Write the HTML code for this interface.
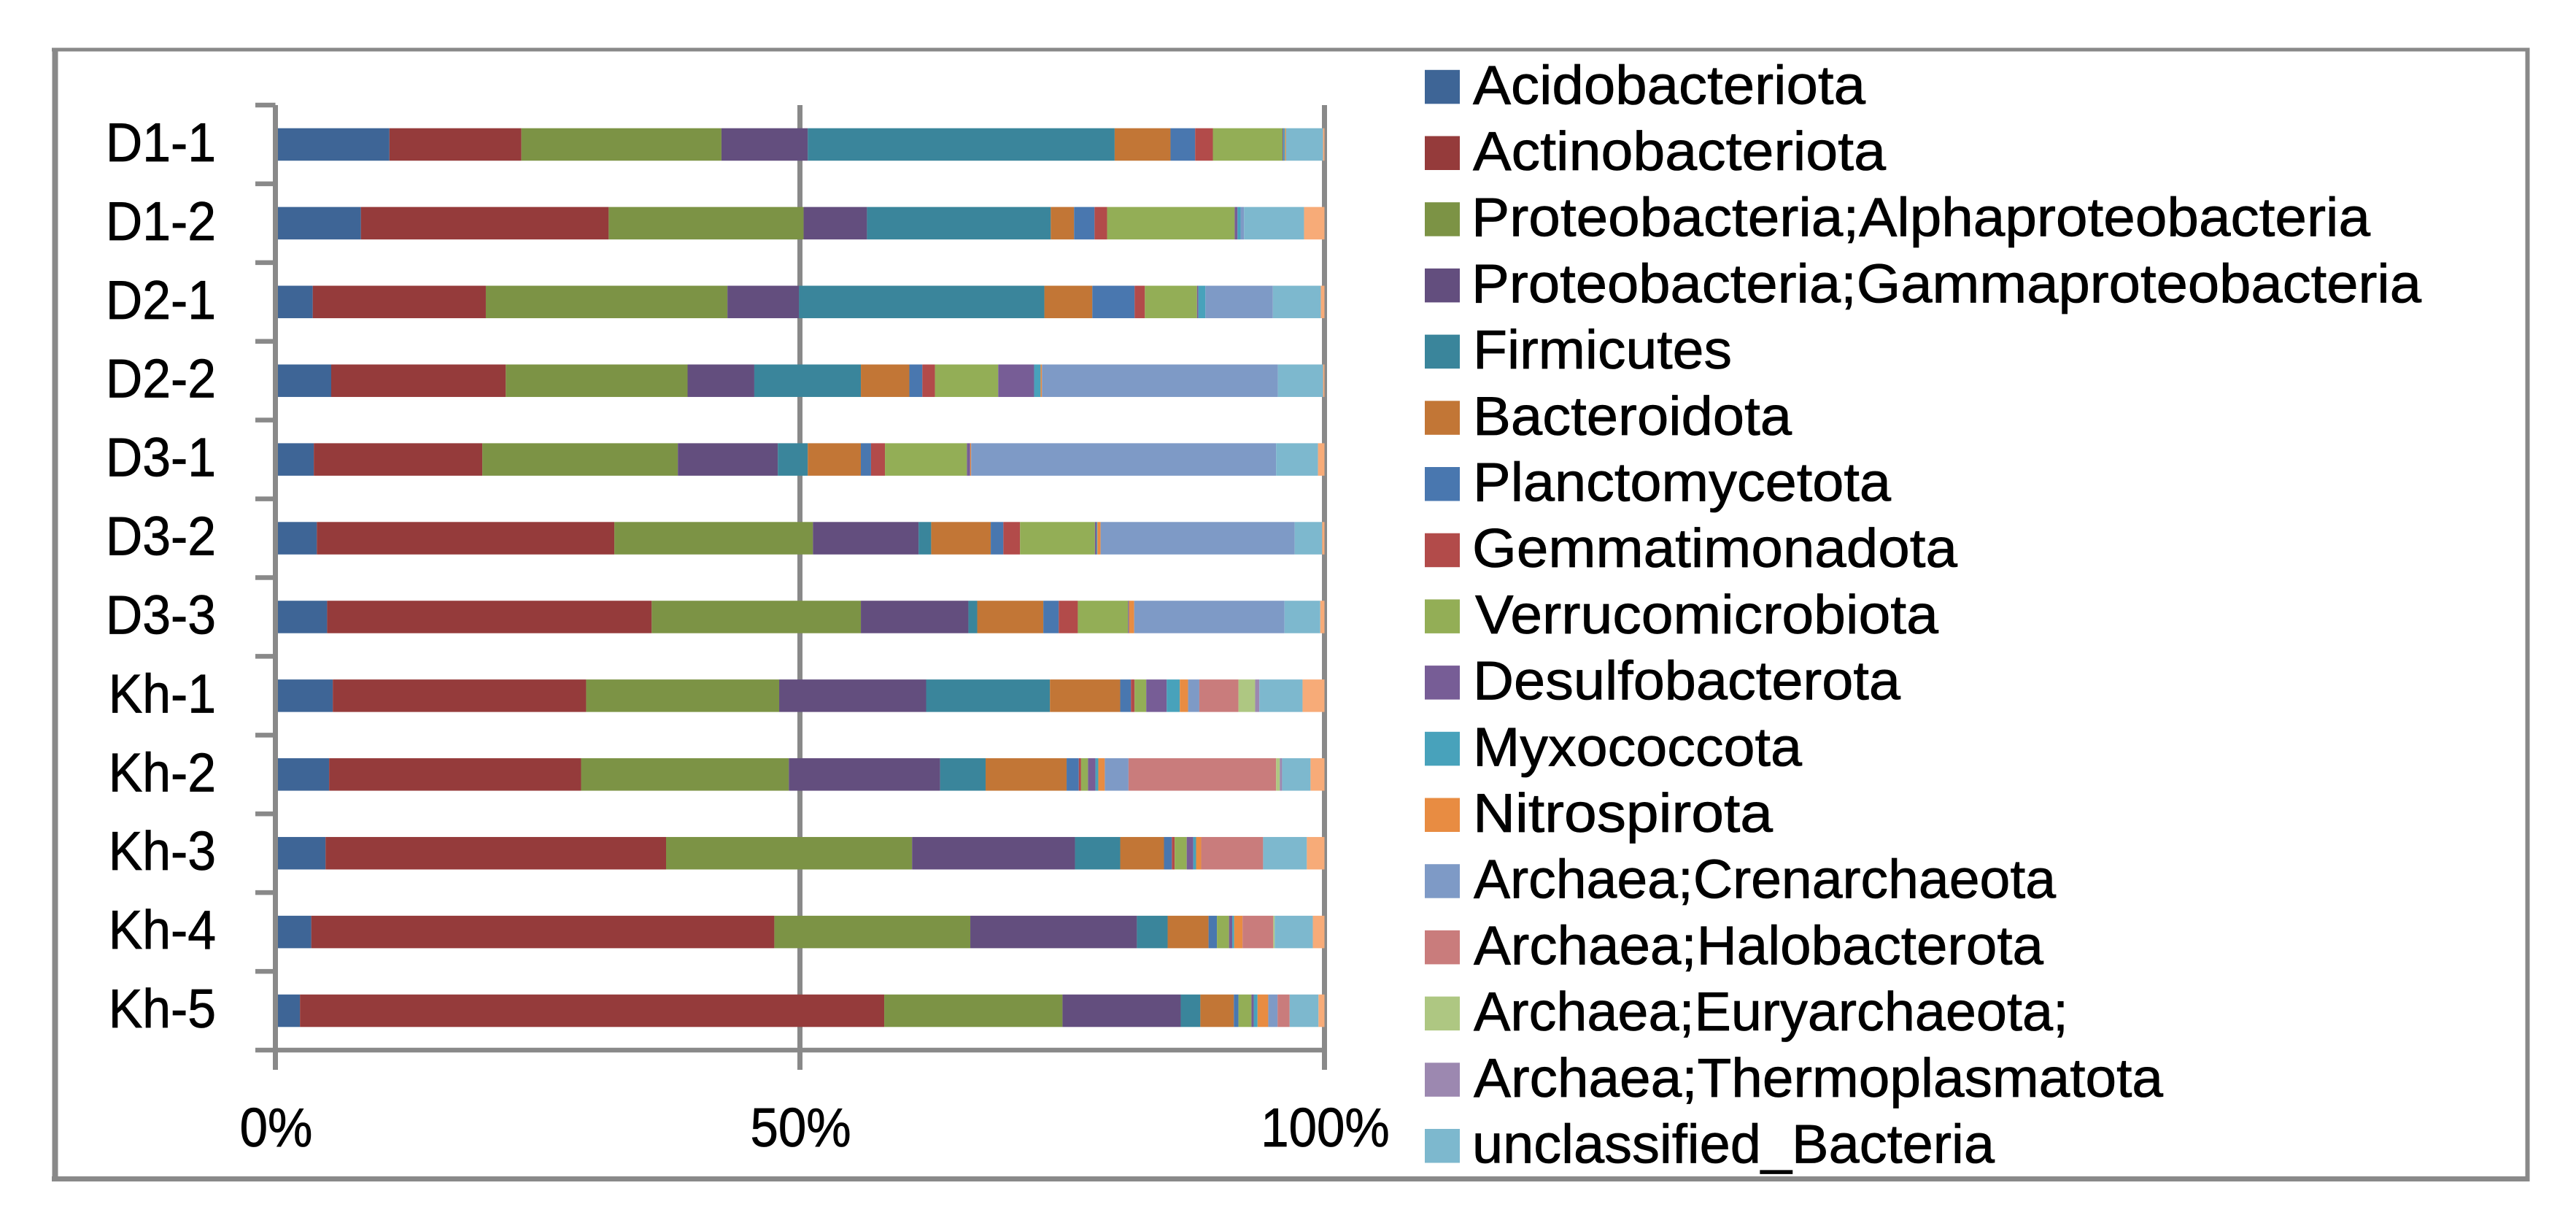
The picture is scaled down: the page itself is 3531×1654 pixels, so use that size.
<!DOCTYPE html>
<html>
<head>
<meta charset="utf-8">
<title>Stacked bar chart of microbial community composition</title>
<style>
html,body{margin:0;padding:0;background:#fff;}
svg{display:block;}
text{font-family:"Liberation Sans",sans-serif;fill:#000;stroke:#000;stroke-width:0.8px;font-size:75px;}
</style>
</head>
<body>
<svg id="chart" xmlns="http://www.w3.org/2000/svg" width="3531" height="1654" viewBox="0 0 3531 1654">
  <rect x="0" y="0" width="3531" height="1654" fill="#fff"/>
  <g stroke="#898989" fill="none">
    <line x1="75.5" y1="65.5" x2="75.5" y2="1619" stroke-width="8"/>
    <line x1="71" y1="68" x2="3467" y2="68" stroke-width="5"/>
    <line x1="3464.5" y1="65.5" x2="3464.5" y2="1619" stroke-width="6"/>
    <line x1="71" y1="1615.5" x2="3467" y2="1615.5" stroke-width="7"/>
  </g>
  <g id="grid"></g>
  <g id="bars"></g>
  <g id="axes"></g>
  <g id="legend">
    <g><rect x="1953" y="95.8" width="48" height="46.5" fill="#3E6596"/><text x="2019" y="142.3" textLength="538" lengthAdjust="spacingAndGlyphs">Acidobacteriota</text></g>
    <g><rect x="1953" y="186.5" width="48" height="46.5" fill="#953B3B"/><text x="2019" y="233" textLength="566" lengthAdjust="spacingAndGlyphs">Actinobacteriota</text></g>
    <g><rect x="1953" y="277.2" width="48" height="46.5" fill="#7C9345"/><text x="2017" y="323.7" textLength="1232" lengthAdjust="spacingAndGlyphs">Proteobacteria;Alphaproteobacteria</text></g>
    <g><rect x="1953" y="367.9" width="48" height="46.5" fill="#634E7E"/><text x="2017" y="414.4" textLength="1302" lengthAdjust="spacingAndGlyphs">Proteobacteria;Gammaproteobacteria</text></g>
    <g><rect x="1953" y="458.6" width="48" height="46.5" fill="#3A859B"/><text x="2019" y="505.1" textLength="355" lengthAdjust="spacingAndGlyphs">Firmicutes</text></g>
    <g><rect x="1953" y="549.3" width="48" height="46.5" fill="#C27636"/><text x="2019" y="595.8" textLength="437" lengthAdjust="spacingAndGlyphs">Bacteroidota</text></g>
    <g><rect x="1953" y="640" width="48" height="46.5" fill="#4977AF"/><text x="2019" y="686.5" textLength="573" lengthAdjust="spacingAndGlyphs">Planctomycetota</text></g>
    <g><rect x="1953" y="730.7" width="48" height="46.5" fill="#B24B4A"/><text x="2018" y="777.2" textLength="665" lengthAdjust="spacingAndGlyphs">Gemmatimonadota</text></g>
    <g><rect x="1953" y="821.4" width="48" height="46.5" fill="#93AE56"/><text x="2022" y="867.9" textLength="635" lengthAdjust="spacingAndGlyphs">Verrucomicrobiota</text></g>
    <g><rect x="1953" y="912.1" width="48" height="46.5" fill="#775D96"/><text x="2019" y="958.6" textLength="586" lengthAdjust="spacingAndGlyphs">Desulfobacterota</text></g>
    <g><rect x="1953" y="1002.8" width="48" height="46.5" fill="#48A2BB"/><text x="2019" y="1049.3" textLength="451" lengthAdjust="spacingAndGlyphs">Myxococcota</text></g>
    <g><rect x="1953" y="1093.5" width="48" height="46.5" fill="#E88C42"/><text x="2019" y="1140" textLength="411" lengthAdjust="spacingAndGlyphs">Nitrospirota</text></g>
    <g><rect x="1953" y="1184.2" width="48" height="46.5" fill="#7E9AC6"/><text x="2020" y="1230.7" textLength="798" lengthAdjust="spacingAndGlyphs">Archaea;Crenarchaeota</text></g>
    <g><rect x="1953" y="1274.9" width="48" height="46.5" fill="#C97C7C"/><text x="2020" y="1321.4" textLength="781" lengthAdjust="spacingAndGlyphs">Archaea;Halobacterota</text></g>
    <g><rect x="1953" y="1365.6" width="48" height="46.5" fill="#AEC782"/><text x="2020" y="1412.1" textLength="815" lengthAdjust="spacingAndGlyphs">Archaea;Euryarchaeota;</text></g>
    <g><rect x="1953" y="1456.3" width="48" height="46.5" fill="#9C88B0"/><text x="2020" y="1502.8" textLength="945" lengthAdjust="spacingAndGlyphs">Archaea;Thermoplasmatota</text></g>
    <g><rect x="1953" y="1547" width="48" height="46.5" fill="#7DB8CE"/><text x="2018" y="1593.5" textLength="716" lengthAdjust="spacingAndGlyphs">unclassified_Bacteria</text></g>
  </g>
</svg>
<script>
const categories = ["D1-1","D1-2","D2-1","D2-2","D3-1","D3-2","D3-3","Kh-1","Kh-2","Kh-3","Kh-4","Kh-5"];
const xTickValues = [0,50,100];
const xTickLabels = ["0%","50%","100%"];

const acidobacteriota = [10.88,8.15,3.56,5.32,3.66,3.95,4.93,5.47,5.12,4.78,3.42,2.34];
const actinobacteriota = [12.59,23.62,16.50,16.64,16.06,28.36,30.94,24.15,24.02,32.46,44.14,55.69];
const alphaproteobacteria = [19.09,18.58,23.03,17.33,18.64,18.93,19.94,18.40,19.80,23.45,18.68,16.99];
const gammaproteobacteria = [8.24,6.04,6.82,6.36,9.53,10.07,10.25,14.01,14.42,15.53,15.88,11.27];
const firmicutes = [29.28,17.52,23.39,10.16,2.85,1.20,0.84,11.80,4.34,4.31,2.93,1.87];
const bacteroidota = [5.33,2.22,4.57,4.62,5.06,5.68,6.30,6.70,7.72,4.17,3.90,3.19];
const planctomycetota = [2.35,1.95,4.03,1.24,0.97,1.20,1.47,1.02,1.16,0.75,0.80,0.44];
const gemmatimonadota = [1.69,1.20,0.98,1.20,1.33,1.59,1.82,0.35,0.22,0.27,0,0];
const verrucomicrobiota = [6.65,12.16,4.97,6.03,7.81,7.14,4.79,1.11,0.66,1.15,1.15,1.24];
const desulfobacterota = [0.09,0.27,0.13,3.42,0.31,0.15,0.09,1.95,0.71,0.62,0.31,0.22];
const myxococcota = [0.13,0.29,0.67,0.62,0,0.08,0,1.25,0.27,0.27,0.18,0.36];
const nitrospirota = [0.09,0,0,0.13,0.09,0.31,0.49,0.79,0.62,0.49,0.80,1.02];
const crenarchaeota = [0,0.33,6.43,22.49,29.07,18.50,14.33,1.07,2.26,0,0,0.89];
const halobacterota = [0,0,0,0,0,0,0,3.73,14.07,5.90,2.93,1.15];
const euryarchaeota = [0,0,0,0,0,0,0,1.59,0.35,0,0.13,0];
const thermoplasmatota = [0,0,0,0,0,0,0,0.40,0.22,0,0,0];
const unclassifiedBacteria = [3.55,5.72,4.57,4.31,3.99,2.62,3.41,4.12,2.71,4.17,3.64,2.75];
const unlabelledRemainder = [0.14,1.95,0.35,0.13,0.62,0.22,0.40,2.09,1.33,1.68,1.11,0.57];

const seriesValues = [acidobacteriota,actinobacteriota,alphaproteobacteria,gammaproteobacteria,firmicutes,bacteroidota,planctomycetota,gemmatimonadota,verrucomicrobiota,desulfobacterota,myxococcota,nitrospirota,crenarchaeota,halobacterota,euryarchaeota,thermoplasmatota,unclassifiedBacteria,unlabelledRemainder];
const seriesColors = ["#3E6596","#953B3B","#7C9345","#634E7E","#3A859B","#C27636","#4977AF","#B24B4A","#93AE56","#775D96","#48A2BB","#E88C42","#7E9AC6","#C97C7C","#AEC782","#9C88B0","#7DB8CE","#F7AB78"];

const NS = "http://www.w3.org/2000/svg";
const X0 = 377.5, X100 = 1815.5, Y_TOP = 144, Y_BOTTOM = 1439, BAR_H = 44.5;
const GREY = "#898989";
const xScale = v => X0 + (X100 - X0) * v / 100;
const bandH = (Y_BOTTOM - Y_TOP) / categories.length;
const yCenter = i => Y_TOP + bandH * (i + 0.5);

function make(tag, parent, props) {
  const el = document.createElementNS(NS, tag);
  for (const k in props) el.setAttribute(k, props[k]);
  parent.appendChild(el);
  return el;
}

const gridG = document.getElementById('grid');
const barsG = document.getElementById('bars');
const axesG = document.getElementById('axes');

/* vertical gridlines at 50% and 100% (behind the bars) */
xTickValues.slice(1).forEach(v => {
  const line = make('line', gridG, {x1:xScale(v), x2:xScale(v), y1:Y_TOP, y2:1466, stroke:GREY, 'stroke-width':7});
  
  
});

/* stacked bars, each normalised to 100% */
categories.forEach((cat, i) => {
  const total = seriesValues.reduce((s, arr) => s + arr[i], 0);
  let cum = 0;
  seriesValues.forEach((arr, s) => {
    const v = arr[i] / total * 100;
    if (v <= 0) return;
    const rect = make('rect', barsG, {
      x: xScale(cum), y: yCenter(i) - BAR_H / 2,
      width: xScale(cum + v) - xScale(cum), height: BAR_H,
      fill: seriesColors[s]
    });
    
    
    cum += v;
  });
});

/* axes */
const yAxis = make('line', axesG, {x1:X0, x2:X0, y1:Y_TOP, y2:1466, stroke:GREY, 'stroke-width':7});


const xAxis = make('line', axesG, {x1:X0, x2:xScale(100) + 3, y1:Y_BOTTOM, y2:Y_BOTTOM, stroke:GREY, 'stroke-width':6.5});



for (let i = 0; i <= categories.length; i++) {
  const y = Y_TOP + bandH * i;
  const tick = make('line', axesG, {x1:350, x2:X0, y1:y, y2:y, stroke:GREY, 'stroke-width':6.5});
  
  
}

categories.forEach((cat, i) => {
  const t = make('text', axesG, {'text-anchor':'end', transform:'translate(296,' + (yCenter(i) + 23) + ') scale(0.93,1)'});
  t.textContent = cat;
  
  
});

xTickValues.forEach((v, i) => {
  const t = make('text', axesG, {'text-anchor':'middle', transform:'translate(' + (xScale(v) + 1) + ',1571) scale(0.92,1)'});
  t.textContent = xTickLabels[i];
  
  
});
</script>
</body>
</html>
